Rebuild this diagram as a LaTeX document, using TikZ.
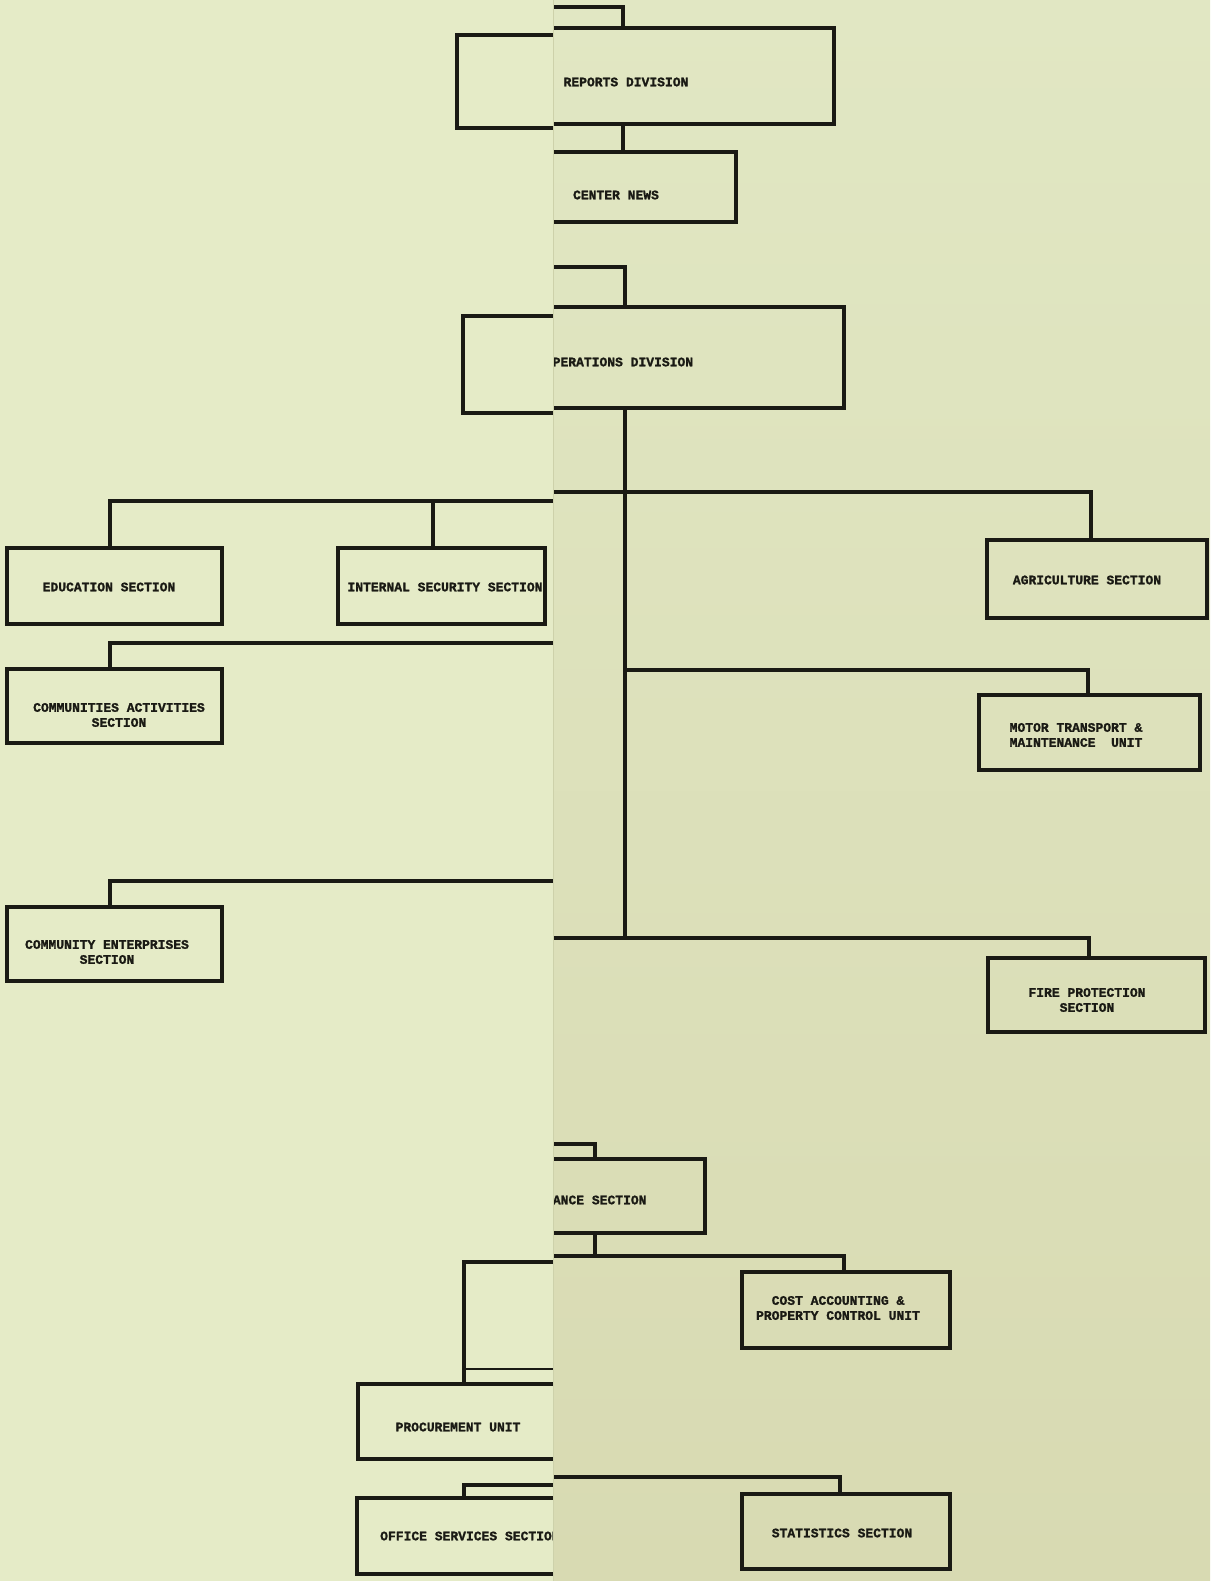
\documentclass[tikz,border=0pt]{standalone}
\usepackage{fontspec}
\setmonofont{Liberation Mono}[BoldFeatures={FakeBold=1.4}]
\definecolor{inkc}{HTML}{1A1A14}
\definecolor{leftpaper}{HTML}{E5EBC7}
\definecolor{rightpapertop}{HTML}{E1E7C3}
\definecolor{rightpaperbot}{HTML}{D8DAB2}
\definecolor{pageedge}{HTML}{CDD1AA}
% place a rectangular box node by its left, top, right and bottom edges
\newcommand\placebox[5]{%
  \node[orgbox, minimum width={#4-#2}, minimum height={#5-#3}] (#1)
    at ({(#2+#4)/2},{(#3+#5)/2}) {};}
\begin{document}
\begin{tikzpicture}[x=1pt,y=-1pt,
  orgbox/.style={draw=inkc, line width=3.2pt, rectangle, inner sep=0pt, outer sep=0pt},
  link/.style={draw=inkc, line width=3.2pt},
  thinlink/.style={draw=inkc, line width=1.8pt},
  lbl/.style={font=\ttfamily\bfseries\fontsize{13}{15}\selectfont, text=inkc,
              align=center, inner sep=0pt}]
\useasboundingbox (0,0) rectangle (1210,1581);

% paper of the two sheets
\shade[top color=rightpapertop, bottom color=rightpaperbot] (553,0) rectangle (1210,1581);
\fill[leftpaper] (0,0) rectangle (553,1581);

% ---------------- right sheet ----------------
\begin{scope}
\clip (553,0) rectangle (1210,1581);
\placebox{reports}{412}{28}{834}{124}
\node[lbl] (reportsT) at (626,82) {REPORTS DIVISION};
\placebox{news}{490}{152}{736}{222}
\node[lbl] (newsT) at (616,195) {CENTER NEWS};
\placebox{ops}{406}{307}{844}{408}
\node[lbl] (opsT) at (619,362) {OPERATIONS DIVISION};
\placebox{agri}{987}{540}{1207}{618}
\node[lbl] (agriT) at (1087,580) {AGRICULTURE SECTION};
\placebox{motor}{979}{695}{1200}{770}
\node[lbl, align=left] (motorT) at (1076,735) {MOTOR TRANSPORT \&\\MAINTENANCE\ \ UNIT};
\placebox{fire}{988}{958}{1205}{1032}
\node[lbl] (fireT) at (1087,1000) {FIRE PROTECTION\\SECTION};
\placebox{fin}{485}{1159}{705}{1233}
\node[lbl] (finT) at (588,1200) {FINANCE SECTION};
\placebox{cost}{742}{1272}{950}{1348}
\node[lbl] (costT) at (838,1308) {COST ACCOUNTING \&\\PROPERTY CONTROL UNIT};
\placebox{stat}{742}{1494}{950}{1569}
\node[lbl] (statT) at (842,1533) {STATISTICS SECTION};

\coordinate (rA) at (540,7);
\draw[link] (rA) -| (reports.north);
\draw[link] (reports.south) -- (reports.south |- news.north);
\coordinate (rB) at (540,267);
\draw[link] (rB) -| (ops.north);
\coordinate (trunkEnd) at (625,938);
\draw[link] (ops.south) -- (trunkEnd);
\coordinate (rC) at (540,492);
\coordinate (agriDrop) at (1091,492);
\draw[link] (rC) -- (agriDrop) -- (agriDrop |- agri.north);
\coordinate (motorDrop) at (1088,670);
\draw[link] (ops.south |- motorDrop) -- (motorDrop) -- (motorDrop |- motor.north);
\coordinate (rD) at (540,938);
\coordinate (fireDrop) at (1089,938);
\draw[link] (rD) -- (fireDrop) -- (fireDrop |- fire.north);
\coordinate (rE) at (540,1144);
\draw[link] (rE) -| (fin.north);
\coordinate (rF) at (540,1256);
\coordinate (costDrop) at (844,1256);
\draw[link] (fin.south) -- (fin.south |- rF);
\draw[link] (rF) -- (costDrop) -- (costDrop |- cost.north);
\coordinate (rG) at (540,1477);
\coordinate (statDrop) at (840,1477);
\draw[link] (rG) -- (statDrop) -- (statDrop |- stat.north);
\end{scope}

% ---------------- left sheet ----------------
\begin{scope}
\clip (0,0) rectangle (553,1581);
\placebox{reportsL}{457}{35}{700}{128}
\placebox{opsL}{463}{316}{700}{413}
\placebox{edu}{7}{548}{222}{624}
\node[lbl] (eduT) at (109,587) {EDUCATION SECTION};
\placebox{isec}{338}{548}{545}{624}
\node[lbl] (isecT) at (445,587) {INTERNAL SECURITY SECTION};
\placebox{cact}{7}{669}{222}{743}
\node[lbl] (cactT) at (119,715) {COMMUNITIES ACTIVITIES\\SECTION};
\placebox{cent}{7}{907}{222}{981}
\node[lbl] (centT) at (107,952) {COMMUNITY ENTERPRISES\\SECTION};
\placebox{proc}{358}{1384}{700}{1459}
\node[lbl] (procT) at (458,1427) {PROCUREMENT UNIT};
\placebox{office}{357}{1498}{700}{1574}
\node[lbl, anchor=west] (officeT) at (380,1536) {OFFICE SERVICES SECTION};

\coordinate (lA) at (566,501);
\coordinate (eduDrop) at (110,501);
\coordinate (isecDrop) at (433,501);
\draw[link] (lA) -- (eduDrop) -- (eduDrop |- edu.north);
\draw[link] (isecDrop) -- (isecDrop |- isec.north);
\coordinate (lB) at (566,643);
\coordinate (cactDrop) at (110,643);
\draw[link] (lB) -- (cactDrop) -- (cactDrop |- cact.north);
\coordinate (lC) at (566,881);
\coordinate (centDrop) at (110,881);
\draw[link] (lC) -- (centDrop) -- (centDrop |- cent.north);
\coordinate (lD) at (566,1262);
\coordinate (procDrop) at (464,1262);
\draw[link] (lD) -- (procDrop) -- (procDrop |- proc.north);
\coordinate (lE) at (566,1369);
\draw[thinlink] (lE) -- (procDrop |- lE);
\coordinate (lF) at (566,1485);
\coordinate (officeDrop) at (464,1485);
\draw[link] (lF) -- (officeDrop) -- (officeDrop |- office.north);
\end{scope}

% edge of the upper sheet
\draw[pageedge, line width=0.8pt] (553.4,0) -- (553.4,1581);
\end{tikzpicture}
\end{document}
